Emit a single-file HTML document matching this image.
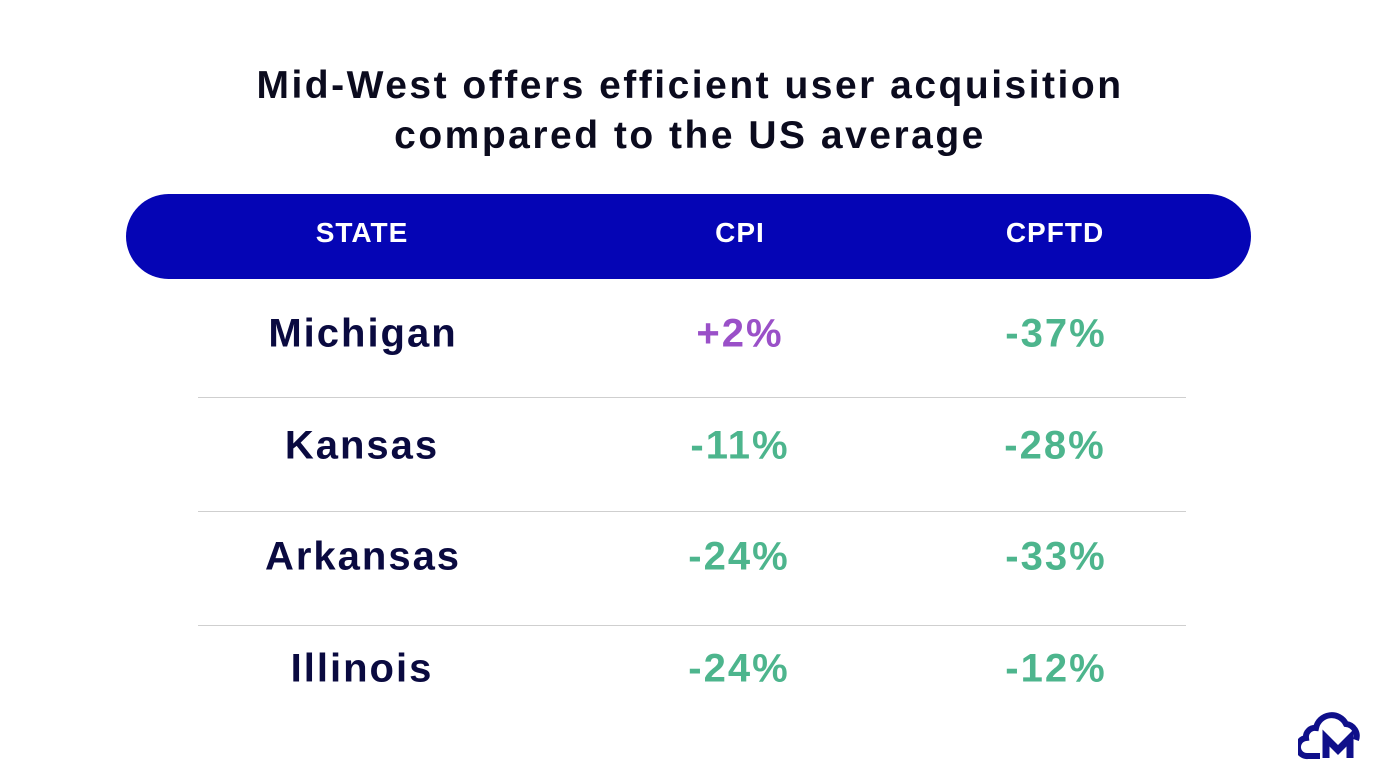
<!DOCTYPE html>
<html><head><meta charset="utf-8"><style>
body{margin:0;width:1380px;height:780px;background:#fff;font-family:"Liberation Sans",sans-serif;position:relative;overflow:hidden}
.t{position:absolute;left:0;width:1380px;text-align:center;font-size:39px;font-weight:bold;color:#0b0b1e;line-height:50px;letter-spacing:2.5px}
.hdr{position:absolute;left:126px;top:194px;width:1125px;height:85px;border-radius:43px;background:#0505b5}
.c{position:absolute;transform:translate(-50%,-50%);white-space:nowrap;font-weight:bold}
.h{color:#fff;font-size:28px;letter-spacing:1px}
.r{font-size:40px;letter-spacing:2px}
.s{color:#0a0a40}.g{color:#4db58d}.p{color:#9a50c8}
.line{position:absolute;left:198px;width:988px;height:1px;background:#cfcfcf}
</style></head><body>
<div class="t" style="top:61px">Mid-West offers efficient user acquisition<br>compared to the US average</div>
<div class="hdr"></div>
<div class="c h" style="left:362px;top:233px">STATE</div>
<div class="c h" style="left:740px;top:233px">CPI</div>
<div class="c h" style="left:1055px;top:233px">CPFTD</div>

<div class="c r s" style="left:363px;top:334px">Michigan</div>
<div class="c r p" style="left:740px;top:334px">+2%</div>
<div class="c r g" style="left:1056px;top:334px">-37%</div>
<div class="line" style="top:397px"></div>

<div class="c r s" style="left:362px;top:446px">Kansas</div>
<div class="c r g" style="left:740px;top:446px">-11%</div>
<div class="c r g" style="left:1055px;top:446px">-28%</div>
<div class="line" style="top:511px"></div>

<div class="c r s" style="left:363px;top:557px">Arkansas</div>
<div class="c r g" style="left:739px;top:557px">-24%</div>
<div class="c r g" style="left:1056px;top:557px">-33%</div>
<div class="line" style="top:625px"></div>

<div class="c r s" style="left:362px;top:669px">Illinois</div>
<div class="c r g" style="left:739px;top:669px">-24%</div>
<div class="c r g" style="left:1056px;top:669px">-12%</div>

<svg style="position:absolute;left:1298px;top:706px" width="64" height="56" viewBox="0 0 64 56">
<path d="M22 50 H10 A9 9 0 0 1 8 32 A9 9 0 0 1 18 22 A16 16 0 0 1 48 18 A12 12 0 0 1 58 34" fill="none" stroke="#0f0f8a" stroke-width="6"/>
<path d="M28 52 V32 L40 44 L52 32 V52" fill="none" stroke="#0f0f8a" stroke-width="7" stroke-linejoin="miter"/>
</svg>
</body></html>
